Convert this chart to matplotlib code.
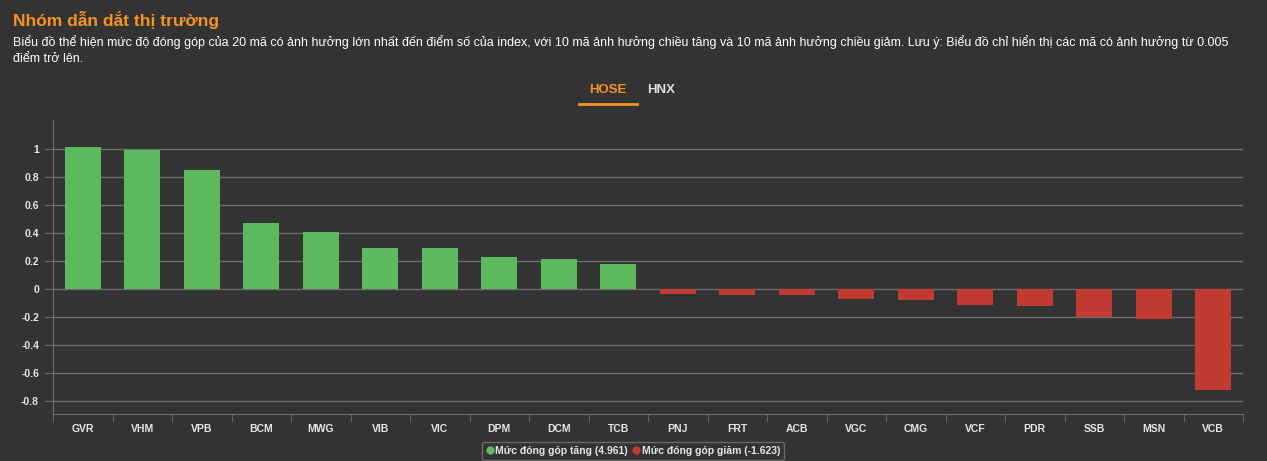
import matplotlib.pyplot as plt
from matplotlib.lines import Line2D
import numpy as np

plt.rcParams['font.family'] = ['Liberation Sans', 'DejaVu Sans']

# data
tickers_up = ['GVR', 'VHM', 'VPB', 'BCM', 'MWG', 'VIB', 'VIC', 'DPM', 'DCM', 'TCB']
values_up = [1.02, 0.995, 0.855, 0.475, 0.41, 0.295, 0.29, 0.23, 0.215, 0.176]
tickers_down = ['PNJ', 'FRT', 'ACB', 'VGC', 'CMG', 'VCF', 'PDR', 'SSB', 'MSN', 'VCB']
values_down = [-0.033, -0.040, -0.043, -0.069, -0.076, -0.112, -0.119, -0.202, -0.217, -0.721]
yticks = [-0.8, -0.6, -0.4, -0.2, 0, 0.2, 0.4, 0.6, 0.8, 1]
total_up = 4.961
total_down = -1.623

BG = '#333333'
GREEN = '#5cb85c'
RED = '#c23b33'
ORANGE = '#f7941d'
GRID = '#6e6e6e'
TXT = '#e6e6e6'

fig = plt.figure(figsize=(12.67, 4.61), dpi=100, facecolor=BG)
ax = fig.add_axes([53 / 1267, 1 - 414 / 461, (1243 - 53) / 1267, (414 - 120) / 461])
ax.set_facecolor(BG)

n_up = len(tickers_up)
x_up = np.arange(n_up)
x_down = np.arange(n_up, n_up + len(tickers_down))
ax.bar(x_up, values_up, width=0.6, color=GREEN, zorder=3)
ax.bar(x_down, values_down, width=0.6, color=RED, zorder=3)

ax.set_xlim(-0.5, n_up + len(tickers_down) - 0.5)
ax.set_ylim(-0.895, 1.21)
ax.set_yticks(yticks)
ax.set_yticklabels(['0' if v == 0 else ('%g' % v) for v in yticks])
ax.yaxis.grid(True, color=GRID, linewidth=1, zorder=0)

ax.set_xticks(np.concatenate([x_up, x_down]))
ax.set_xticklabels(tickers_up + tickers_down)
ax.set_xticks(np.arange(-0.5, n_up + len(tickers_down)), minor=True)
ax.tick_params(axis='x', which='major', length=0, pad=7, labelsize=7.5, colors=TXT)
ax.tick_params(axis='x', which='minor', length=6, color=GRID, direction='out')
ax.tick_params(axis='y', length=6, color=GRID, labelsize=7.5, colors=TXT, pad=4)
for lab in ax.get_xticklabels() + ax.get_yticklabels():
    lab.set_fontweight('bold')

for side in ['top', 'right']:
    ax.spines[side].set_visible(False)
ax.spines['left'].set_color(GRID)
ax.spines['bottom'].set_color(GRID)

# header texts
fig.text(13 / 1267, 1 - 20 / 461, 'Nhóm dẫn dắt thị trường', color=ORANGE,
         fontsize=12.5, fontweight='bold', va='center')
fig.text(13 / 1267, 1 - 42 / 461,
         'Biểu đồ thể hiện mức độ đóng góp của 20 mã có ảnh hưởng lớn nhất đến điểm số của index, '
         'với 10 mã ảnh hưởng chiều tăng và 10 mã ảnh hưởng chiều giảm. Lưu ý: Biểu đồ chỉ hiển thị '
         'các mã có ảnh hưởng từ 0.005',
         color='white', fontsize=9, va='center')
fig.text(13 / 1267, 1 - 59 / 461, 'điểm trở lên.', color='white', fontsize=9, va='center')

# tabs
fig.text(608 / 1267, 1 - 90 / 461, 'HOSE', color=ORANGE, fontsize=9.5,
         fontweight='bold', ha='center', va='center')
fig.text(661 / 1267, 1 - 90 / 461, 'HNX', color='#dddddd', fontsize=9.5,
         fontweight='bold', ha='center', va='center')
fig.add_artist(Line2D([579 / 1267, 637 / 1267], [1 - 104 / 461, 1 - 104 / 461],
                      color=ORANGE, linewidth=2))

# legend
handles = [
    Line2D([], [], marker='o', linestyle='', color=GREEN, markersize=5),
    Line2D([], [], marker='o', linestyle='', color=RED, markersize=5),
]
labels = ['Mức đóng góp tăng (%.3f)' % total_up, 'Mức đóng góp giảm (%.3f)' % total_down]
leg = fig.legend(handles, labels, loc='center', bbox_to_anchor=(633 / 1267, 1 - 451 / 461),
                 ncol=2, frameon=True, fontsize=7.5, handletextpad=0.1, columnspacing=0.4,
                 handlelength=0.8, borderpad=0.35, fancybox=True)
leg.get_frame().set_facecolor(BG)
leg.get_frame().set_edgecolor('#777777')
for t in leg.get_texts():
    t.set_color(TXT)
    t.set_fontweight('bold')

fig.savefig('out.png', dpi=100, facecolor=BG)
